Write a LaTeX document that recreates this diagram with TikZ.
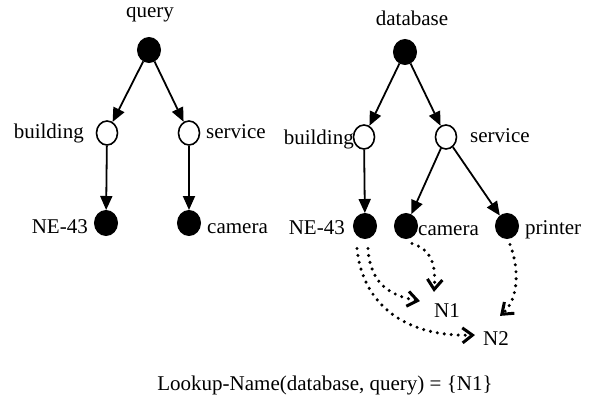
\documentclass[tikz,border=0pt]{standalone}
\usepackage{fontspec}
\setmainfont{Liberation Serif}
\usetikzlibrary{arrows.meta,shapes.geometric}
\begin{document}
\begin{tikzpicture}[x=1pt,y=-1pt,
  every node/.style={font=\fontsize{21}{25}\selectfont, inner sep=0pt},
  fdot/.style={ellipse, draw, line width=1pt, fill=black, minimum width=23pt, minimum height=25pt},
  odot/.style={ellipse, draw, line width=1.6pt, fill=white, minimum width=21pt, minimum height=24pt},
  lbl/.style={anchor=base},
  lbe/.style={anchor=base east},
  lbw/.style={anchor=base west},
  arr/.style={line width=1.8pt, -{Triangle[length=14pt,width=12pt]}},
  dotarr/.style={line width=3.4pt, line cap=round, dash pattern=on 0pt off 7pt,
    -{Straight Barb[length=10pt,width=15pt,line width=3pt]}}
]
\useasboundingbox (0,0) rectangle (590,400);

% left tree
\node[lbl] (ql) at (150,17) {query};
\node[fdot] (q) at (149,50) {};
\node[odot] (lb) at (107,133) {};
\node[odot] (ls) at (189,133) {};
\node[fdot] (lne) at (106,223) {};
\node[fdot] (lcam) at (189,223) {};
\node[lbe] (lbl1) at (84,138) {building};
\node[lbw] (lsl) at (206,138) {service};
\node[lbe] (lnel) at (88,233) {NE-43};
\node[lbw] (lcaml) at (207,233) {camera};
\draw[arr] (q) -- (lb);
\draw[arr] (q) -- (ls);
\draw[arr] (lb) -- (lne);
\draw[arr] (ls) -- (lcam);

% right tree
\node[lbl] (dl) at (412,25) {database};
\node[fdot] (d) at (405,52) {};
\node[odot] (rb) at (364,137) {};
\node[odot] (rs) at (446,137) {};
\node[fdot] (rne) at (365,226) {};
\node[fdot] (rcam) at (406,226) {};
\node[fdot] (rpr) at (507,226) {};
\node[lbe] (rbl) at (354,144) {building};
\node[lbw] (rsl) at (470,142) {service};
\node[lbe] (rnel) at (345,234) {NE-43};
\node[lbw] (rcaml) at (418,235) {camera};
\node[lbw] (rprl) at (525,234) {printer};
\draw[arr] (d) -- (rb);
\draw[arr] (d) -- (rs);
\draw[arr] (rb) -- (rne);
\draw[arr] (rs) -- (rcam);
\draw[arr] (rs) -- (rpr);

% results
\node[lbl] (n1) at (447,317) {N1};
\node[lbl] (n2) at (496,345) {N2};

\draw[dotarr] ([shift={(3pt,-9.5pt)}]rne.south) .. controls (370,285) and (392,296) .. ([shift={(-14pt,9pt)}]n1.west);
\draw[dotarr] ([shift={(-8pt,-9.5pt)}]rne.south) .. controls (362,300) and (400,337) .. ([shift={(-8pt,3pt)}]n2.west);
\draw[dotarr] ([shift={(6pt,-4.5pt)}]rcam.south) .. controls (432,250) and (436,265) .. ([yshift=11pt]n1.north west);
\draw[dotarr] ([shift={(3pt,-5.5pt)}]rpr.south) .. controls (520,270) and (518,300) .. ([shift={(4pt,15pt)}]n2.north);

\node[lbl] (cap) at (325,390) {Lookup-Name(database, query) = \{N1\}};
\end{tikzpicture}
\end{document}
